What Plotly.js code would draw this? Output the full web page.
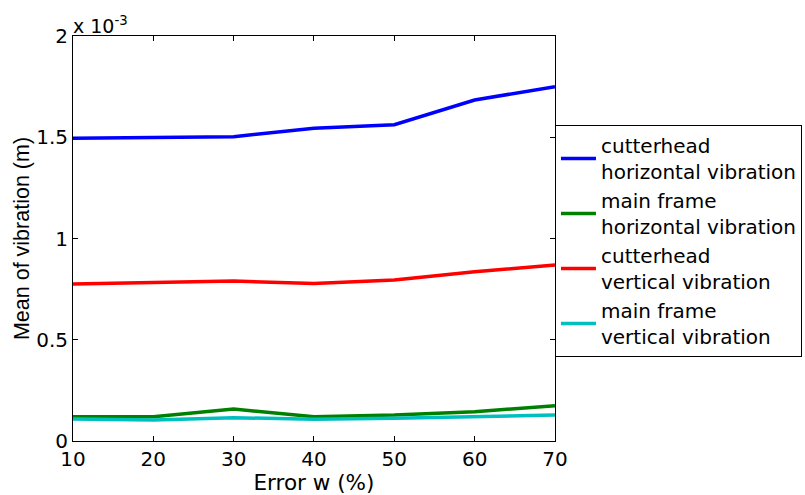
<!DOCTYPE html>
<html>
<head>
<meta charset="utf-8">
<script src="https://cdn.plot.ly/plotly-3.0.1.min.js"></script>
<style>html,body{margin:0;padding:0;background:#fff;}#chart{width:805px;height:495px;}</style>
</head>
<body>
<div id="chart"></div>
<script>
// Error w (%)
const errorW = [10, 20, 30, 40, 50, 60, 70];
// Mean of vibration, in units of 1e-3 m
const cutterheadHorizontal = [1.495, 1.500, 1.503, 1.544, 1.562, 1.684, 1.750];
const mainFrameHorizontal  = [0.120, 0.120, 0.158, 0.120, 0.128, 0.145, 0.174];
const cutterheadVertical   = [0.775, 0.782, 0.790, 0.778, 0.795, 0.836, 0.869];
const mainFrameVertical    = [0.109, 0.104, 0.115, 0.107, 0.112, 0.120, 0.128];
const seriesNames = [
  "cutterhead<br>horizontal vibration",
  "main frame<br>horizontal vibration",
  "cutterhead<br>vertical vibration",
  "main frame<br>vertical vibration"
];
const yTickVals = [0, 0.5, 1, 1.5, 2];
const yTickText = ["0", "0.5", "1", "1.5", "2"];
const xTickVals = [10, 20, 30, 40, 50, 60, 70];

const colors = ["#0000ff", "#008000", "#ff0000", "#00bfbf"];
const ys = [cutterheadHorizontal, mainFrameHorizontal, cutterheadVertical, mainFrameVertical];

const traces = ys.map((y, i) => ({
  x: errorW, y: y, type: "scatter", mode: "lines",
  name: seriesNames[i],
  line: {color: colors[i], width: 3.5}
}));

const fam = "DejaVu Sans, Verdana, sans-serif";
const tickFont = {family: fam, size: 20, color: "#000"};
const xTitleFont = {family: fam, size: 21.5, color: "#000"};
const yTitleFont = {family: "Liberation Sans, Arial, sans-serif", size: 21.5, color: "#000"};
const legendFont = {family: fam, size: 20, color: "#000"};

const layout = {
  width: 805, height: 495,
  margin: {l: 73, r: 250, t: 36, b: 54, pad: 0},
  paper_bgcolor: "#fff", plot_bgcolor: "#fff",
  font: tickFont,
  showlegend: true,
  legend: {
    xref: "container", yref: "container",
    x: 0.6894, xanchor: "left", y: 0.7475, yanchor: "top",
    bgcolor: "#fff", bordercolor: "#000", borderwidth: 1,
    font: legendFont, itemwidth: 35, tracegroupgap: 0
  },
  xaxis: {
    range: [10, 70], tickvals: xTickVals, ticks: "inside", ticklen: 5,
    tickcolor: "#000", linecolor: "#000", linewidth: 1, mirror: "ticks",
    showline: true, showgrid: false, zeroline: false, automargin: false,
    tickfont: tickFont,
    title: {text: "Error w (%)", font: xTitleFont, standoff: 0}
  },
  yaxis: {
    range: [0, 2], tickvals: yTickVals, ticktext: yTickText, ticks: "inside", ticklen: 5,
    tickcolor: "#000", linecolor: "#000", linewidth: 1, mirror: "ticks",
    showline: true, showgrid: false, zeroline: false, automargin: false,
    tickfont: tickFont,
    title: {text: "Mean of vibration (m)", font: yTitleFont, standoff: 0}
  },
  annotations: [{
    text: "x 10<sup>-3</sup>", xref: "paper", yref: "paper",
    x: 0, y: 1, xanchor: "left", yanchor: "bottom", showarrow: false,
    font: {family: fam, size: 19, color: "#000"}, yshift: -3, xshift: -2
  }]
};

Plotly.newPlot("chart", traces, layout, {displayModeBar: false, staticPlot: true});
</script>
</body>
</html>
